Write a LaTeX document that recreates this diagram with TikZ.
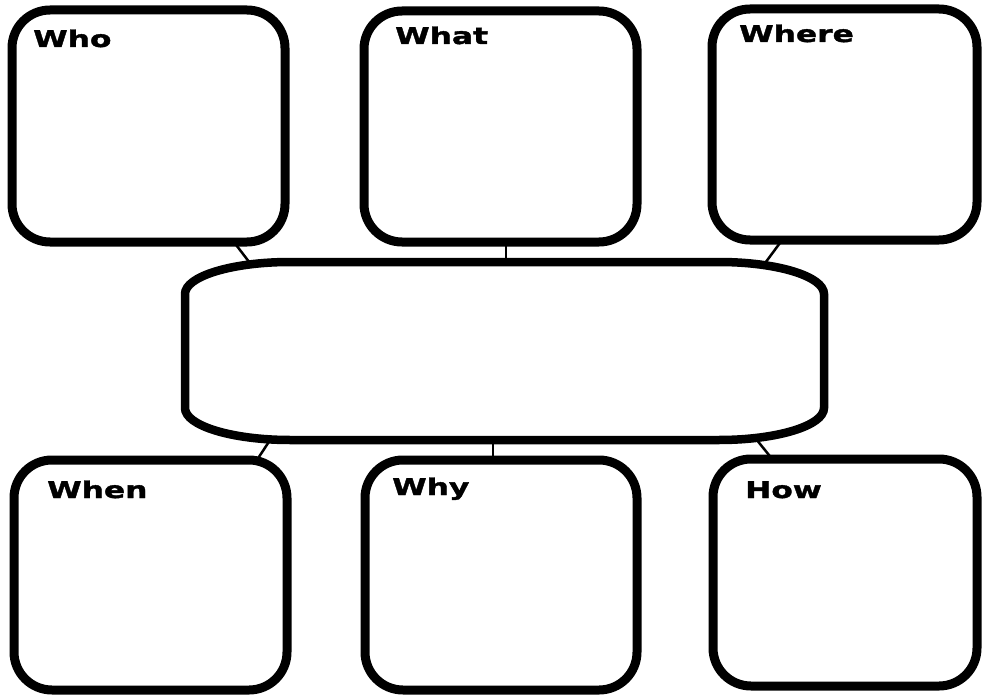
\documentclass[tikz,border=0pt]{standalone}
\usepackage{fontspec}
\newfontfamily\lblfont[FakeStretch=1.36, BoldFeatures={FakeBold=1.6}]{DejaVu Sans}
\usetikzlibrary{calc}
\tikzset{
  box/.style={draw=black, line width=9pt, rounded corners=38pt, fill=white, inner sep=0pt, rectangle},
  conn/.style={draw=black, line width=2.5pt},
  lbl/.style={inner sep=0pt, anchor=base west, font=\lblfont\bfseries\fontsize{23pt}{25pt}\selectfont},
  ctrline/.style={draw=black, line width=8.5pt, fill=white}
}
\begin{document}
\begin{tikzpicture}[x=1pt,y=-1pt]
\useasboundingbox (0,0) rectangle (982,695);
% invisible named node for the centre box
\node[rectangle, inner sep=0pt, minimum width=639pt, minimum height=178pt] (ctr) at (504.5,351) {};
% box positions
\path (148.5,126) coordinate (pwho) (500.5,126.5) coordinate (pwhat) (844.5,124.5) coordinate (pwhere)
      (150.5,575) coordinate (pwhen) (501,575) coordinate (pwhy) (845,572.5) coordinate (phow);
\node[rectangle, inner sep=0pt, minimum width=273pt, minimum height=232pt] (who) at (pwho) {};
\node[rectangle, inner sep=0pt, minimum width=273pt, minimum height=231pt] (what) at (pwhat) {};
\node[rectangle, inner sep=0pt, minimum width=265pt, minimum height=231pt] (where) at (pwhere) {};
\node[rectangle, inner sep=0pt, minimum width=273pt, minimum height=230pt] (when) at (pwhen) {};
\node[rectangle, inner sep=0pt, minimum width=272pt, minimum height=230pt] (why) at (pwhy) {};
\node[rectangle, inner sep=0pt, minimum width=264pt, minimum height=227pt] (how) at (phow) {};
% connectors
\draw[conn] (who.south -| 234,0) -- (ctr.north -| 249,0);
\draw[conn] (what.south -| 506,0) -- (ctr.north -| 506,0);
\draw[conn] (where.south -| 782,0) -- (ctr.north -| 766,0);
\draw[conn] (ctr.south -| 270,0) -- (when.north -| 257,0);
\draw[conn] (ctr.south -| 493,0) -- (why.north -| 493,0);
\draw[conn] (ctr.south -| 757,0) -- (how.north -| 772,0);
% visible boxes
\foreach \n/\w/\h in {who/273/232, what/273/231, where/265/231, when/273/230, why/272/230, how/264/227}{
  \node[box, minimum width=\w pt, minimum height=\h pt] at (p\n) {};
}
% centre box outline
\path[ctrline] (185,294) -- (185,408) .. controls (185,425.7) and (232,440) .. (290,440)
  -- (719,440) .. controls (777,440) and (824,425.7) .. (824,408)
  -- (824,294) .. controls (824,276.3) and (777,262) .. (719,262)
  -- (290,262) .. controls (232,262) and (185,276.3) .. (185,294) -- cycle;
% labels
\node[lbl] (lwho) at (33,47) {Who};
\node[lbl] (lwhat) at (395,44) {What};
\node[lbl] (lwhere) at (739,42) {Where};
\node[lbl] (lwhen) at (47,498) {When};
\node[lbl] (lwhy) at (392,495) {Why};
\node[lbl] (lhow) at (745,498) {How};
\end{tikzpicture}
\end{document}
